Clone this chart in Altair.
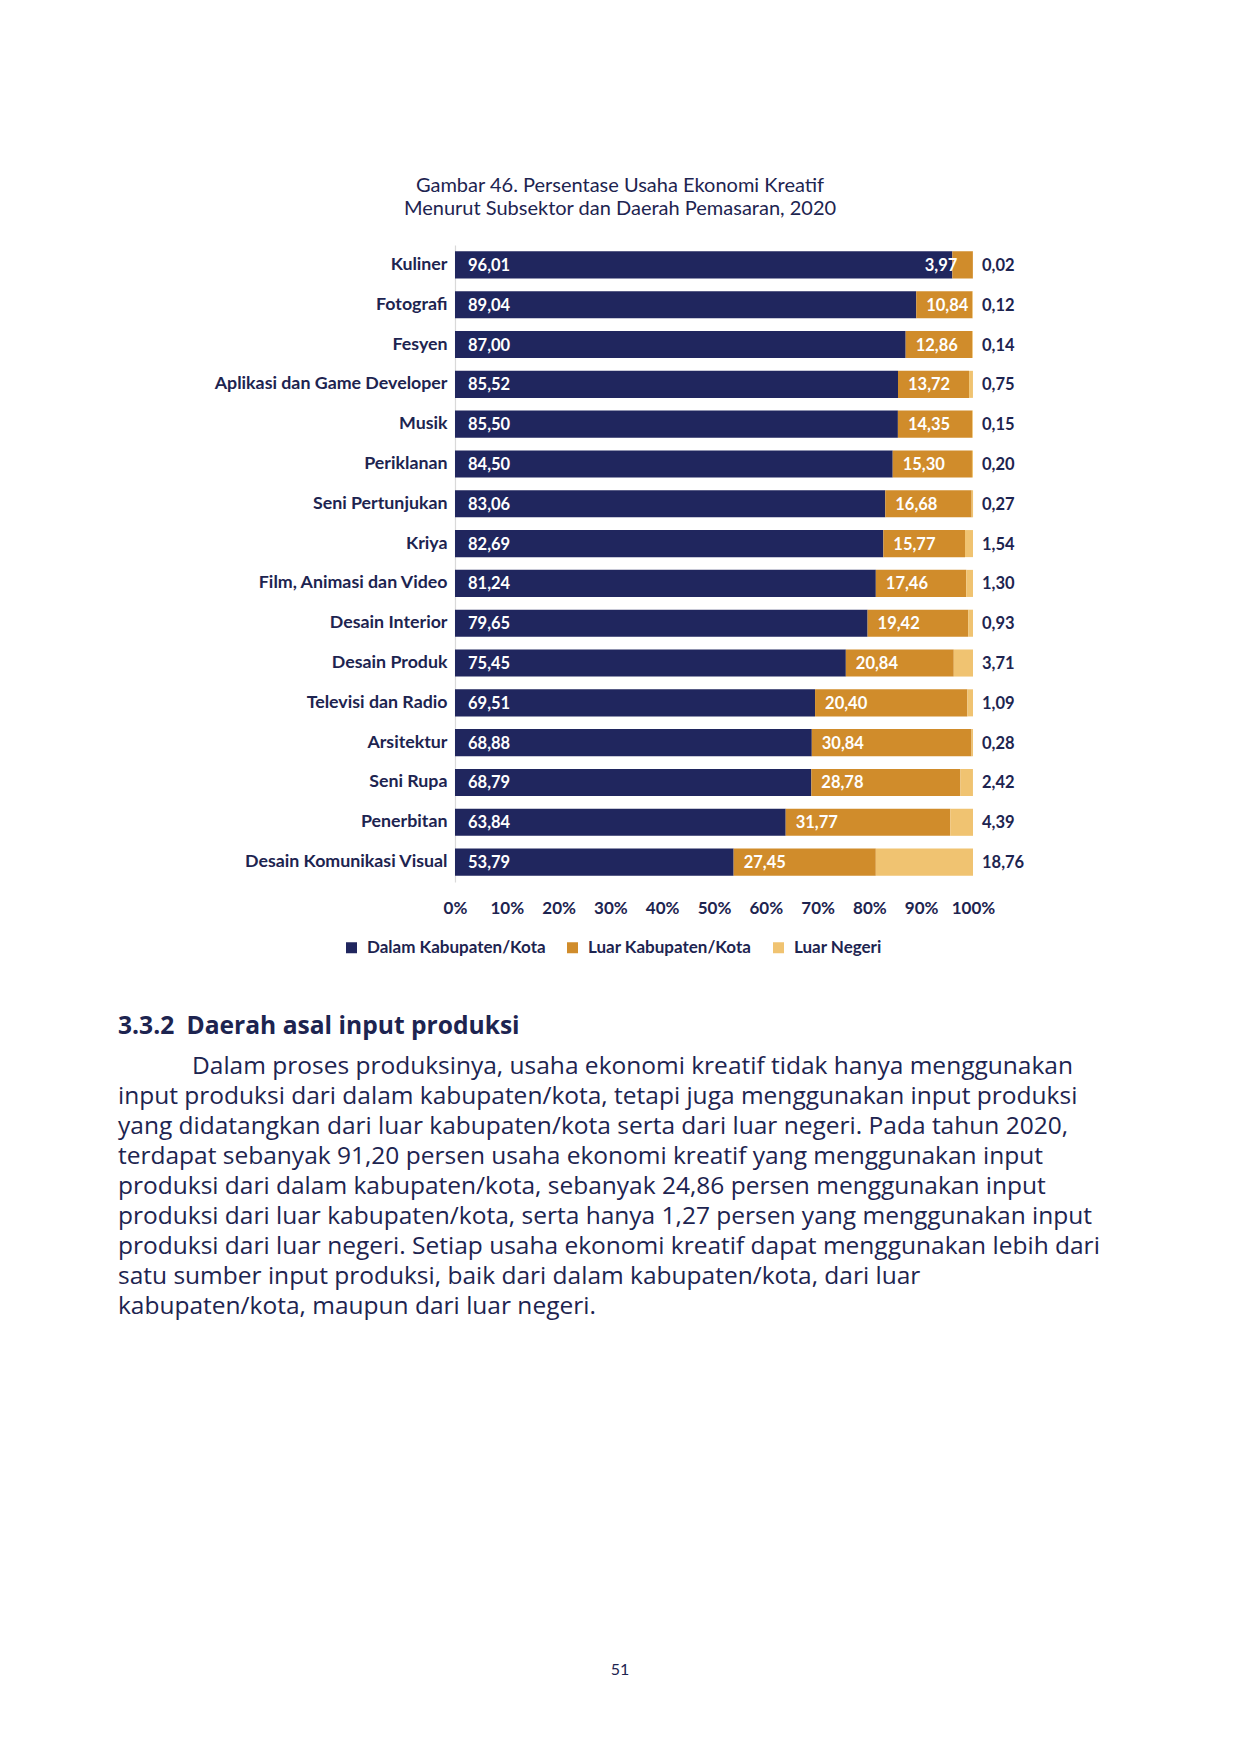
import altair as alt
import pandas as pd

# ---------------- data ----------------
categories = [
    "Kuliner", "Fotografi", "Fesyen", "Aplikasi dan Game Developer", "Musik",
    "Periklanan", "Seni Pertunjukan", "Kriya", "Film, Animasi dan Video",
    "Desain Interior", "Desain Produk", "Televisi dan Radio", "Arsitektur",
    "Seni Rupa", "Penerbitan", "Desain Komunikasi Visual",
]
series = ["Dalam Kabupaten/Kota", "Luar Kabupaten/Kota", "Luar Negeri"]
dalam = [96.01, 89.04, 87.00, 85.52, 85.50, 84.50, 83.06, 82.69, 81.24,
         79.65, 75.45, 69.51, 68.88, 68.79, 63.84, 53.79]
luar_kab = [3.97, 10.84, 12.86, 13.72, 14.35, 15.30, 16.68, 15.77, 17.46,
            19.42, 20.84, 29.40, 30.84, 28.78, 31.77, 27.45]
luar_negeri = [0.02, 0.12, 0.14, 0.75, 0.15, 0.20, 0.27, 1.54, 1.30,
               0.93, 3.71, 1.09, 0.28, 2.42, 4.39, 18.76]
# label printed in the source differs from the drawn bar length
label_override = {("Televisi dan Radio", "Luar Kabupaten/Kota"): "20,40"}

title_lines = ["Gambar 46. Persentase Usaha Ekonomi Kreatif",
               "Menurut Subsektor dan Daerah Pemasaran, 2020"]
tick_values = [0, 10, 20, 30, 40, 50, 60, 70, 80, 90, 100]

heading = "3.3.2\u2002Daerah asal input produksi"
paragraph = [
    "Dalam proses produksinya, usaha ekonomi kreatif tidak hanya menggunakan",
    "input produksi dari dalam kabupaten/kota, tetapi juga menggunakan input produksi",
    "yang didatangkan dari luar kabupaten/kota serta dari luar negeri. Pada tahun 2020,",
    "terdapat sebanyak 91,20 persen usaha ekonomi kreatif yang menggunakan input",
    "produksi dari dalam kabupaten/kota, sebanyak 24,86 persen menggunakan input",
    "produksi dari luar kabupaten/kota, serta hanya 1,27 persen yang menggunakan input",
    "produksi dari luar negeri. Setiap usaha ekonomi kreatif dapat menggunakan lebih dari",
    "satu sumber input produksi, baik dari dalam kabupaten/kota, dari luar",
    "kabupaten/kota, maupun dari luar negeri.",
]
page_number = "51"

# ---------------- styling ----------------
NAVY = "#20265e"
ORANGE = "#d08c2b"
LIGHT = "#f0c371"
TEXT = "#1d2450"
colors = [NAVY, ORANGE, LIGHT]

# ---------------- table ----------------
rows = []
for i, cat in enumerate(categories):
    start = 0.0
    for s, vals in zip(series, [dalam, luar_kab, luar_negeri]):
        v = vals[i]
        lab = label_override.get((cat, s), f"{v:.2f}".replace(".", ","))
        rows.append({"cat": cat, "series": s, "value": v, "start": start,
                     "end": start + v, "label": lab})
        start += v
df = pd.DataFrame(rows)

base = alt.Chart(df)

y_enc = alt.Y(
    "cat:N", sort=categories, title=None,
    scale=alt.Scale(paddingInner=0.32, paddingOuter=0.16),
    axis=alt.Axis(labelFont="Lato", labelFontWeight="bold", labelFontSize=17.8,
                  labelColor=TEXT, labelPadding=8, labelLimit=400,
                  ticks=False, domainColor="#d9d9d9", domainWidth=1.2,
                  grid=False),
)

x_scale = alt.Scale(domain=[0, 100], nice=False, zero=True)

bars = base.mark_bar(strokeWidth=0).encode(
    x=alt.X("start:Q", scale=x_scale, title=None,
            axis=alt.Axis(values=tick_values, labelExpr="datum.value + '%'",
                          labelFont="Lato", labelFontWeight="bold",
                          labelFontSize=17, labelColor=TEXT, labelPadding=18,
                          labelFlush=False, domain=False, ticks=False,
                          tickSize=0, grid=False)),
    x2="end:Q",
    y=y_enc,
    color=alt.Color(
        "series:N", scale=alt.Scale(domain=series, range=colors),
        legend=alt.Legend(title=None, orient="none", legendX=-112, legendY=694,
                          direction="horizontal", symbolType="square",
                          symbolSize=121, symbolStrokeWidth=0,
                          labelFont="Lato", labelFontWeight="bold",
                          labelFontSize=17, labelColor=TEXT, labelOffset=7,
                          columnPadding=18, padding=0, labelLimit=400),
    ),
)

txt_kw = dict(font="Lato", fontWeight="bold", fontSize=16.5, baseline="middle", dy=1)

lab_dalam = base.transform_filter(alt.datum.series == series[0]).mark_text(
    align="left", dx=13, color="white", **txt_kw
).encode(x="start:Q", y=y_enc, text="label:N")

lab_kab = base.transform_filter(
    (alt.datum.series == series[1]) & (alt.datum.value >= 5)
).mark_text(align="left", dx=10, color="white", **txt_kw).encode(
    x="start:Q", y=y_enc, text="label:N")

lab_kab_small = base.transform_filter(
    (alt.datum.series == series[1]) & (alt.datum.value < 5)
).mark_text(align="right", dx=5, color="white", **txt_kw).encode(
    x="start:Q", y=y_enc, text="label:N")

lab_ln = base.transform_filter(alt.datum.series == series[2]).mark_text(
    align="left", dx=9, color=TEXT, **txt_kw
).encode(x="end:Q", y=y_enc, text="label:N")

# ---------------- page text (annotations) ----------------
def note(text, x, y, size, weight="normal", font="Open Sans", align="left"):
    return alt.Chart(pd.DataFrame({"t": [text]})).mark_text(
        font=font, fontSize=size, fontWeight=weight, color=TEXT,
        align=align, baseline="alphabetic"
    ).encode(x=alt.value(x), y=alt.value(y), text="t:N")

notes = [note(heading, -337, 789, 24.6, weight="bold")]
for i, line in enumerate(paragraph):
    notes.append(note(line, -263 if i == 0 else -337, 829 + 30 * i, 24.5))
notes.append(note(page_number, 165, 1430, 16, font="Lato", align="center"))

chart = alt.layer(bars, lab_dalam, lab_kab, lab_kab_small, lab_ln, *notes).properties(
    width=518, height=637,
    title=alt.TitleParams(text=title_lines, anchor="middle", frame="group",
                          dx=-94, font="Lato", fontSize=20, fontWeight="normal",
                          color=TEXT, lineHeight=23, offset=26),
    autosize=alt.AutoSizeParams(type="none"),
    padding={"left": 447, "top": 237, "right": 260, "bottom": 830},
).configure(background="white").configure_view(stroke=None)

chart.save("out.html", embed_options={"renderer": "svg", "actions": False})
